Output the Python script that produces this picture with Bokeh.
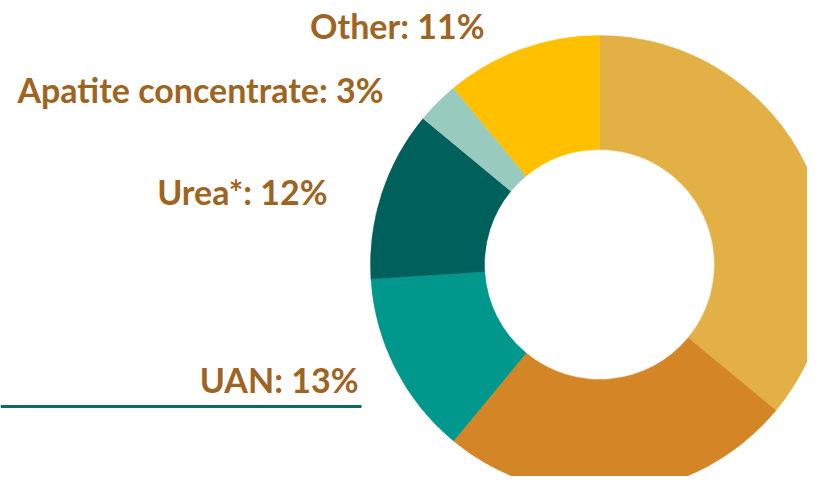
import math
from bokeh.plotting import figure
from bokeh.models import Range1d, ColumnDataSource
from bokeh.core.properties import value
from bokeh.embed import file_html
from bokeh.resources import INLINE

# Data (share, %), clockwise from 12 o'clock
categories = ["Main product A", "Main product B", "UAN", "Urea*", "Apatite concentrate", "Other"]
shares = [36, 25, 13, 12, 3, 11]
colors = ["#E2B045", "#D48626", "#00988C", "#00605C", "#98CBBD", "#FFC000"]

label_texts = ["Other: 11%", "Apatite concentrate: 3%", "Urea*: 12%", "UAN: 13%"]

W, H = 807, 476
p = figure(width=W, height=H, output_backend="svg", toolbar_location=None,
           x_range=Range1d(0, W), y_range=Range1d(492 - H, 492),
           min_border=0)
p.axis.visible = False
p.grid.visible = False
p.outline_line_color = None
p.background_fill_color = "white"
p.border_fill_color = "white"

total = sum(shares)
starts, ends = [], []
cum = 0.0
for s in shares:
    starts.append(math.pi / 2 - 2 * math.pi * cum / total)
    cum += s
    ends.append(math.pi / 2 - 2 * math.pi * cum / total)

src = ColumnDataSource(dict(start=starts, end=ends, color=colors, cat=categories))
cx, cy = 599, 492 - 264
p.annular_wedge(x=cx, y=cy, inner_radius=115, outer_radius=229,
                start_angle="start", end_angle="end", direction="clock",
                fill_color="color", line_color="color", line_width=0.5, source=src)

# decorative rule under UAN label
p.segment(x0=[0], y0=[492 - 406], x1=[361], y1=[492 - 406], line_color="#0E6A5E", line_width=3)

lab = ColumnDataSource(dict(
    x=[484, 383, 327, 358],
    y=[492 - 25, 492 - 89, 492 - 191, 492 - 379],
    t=label_texts,
))
p.text(x="x", y="y", text="t", source=lab, text_align="right", text_baseline="alphabetic",
       text_font=value("Lato"), text_font_style="bold", text_font_size="34px",
       text_color="#9E6522")

open("out.html", "w").write(file_html(p, INLINE))
